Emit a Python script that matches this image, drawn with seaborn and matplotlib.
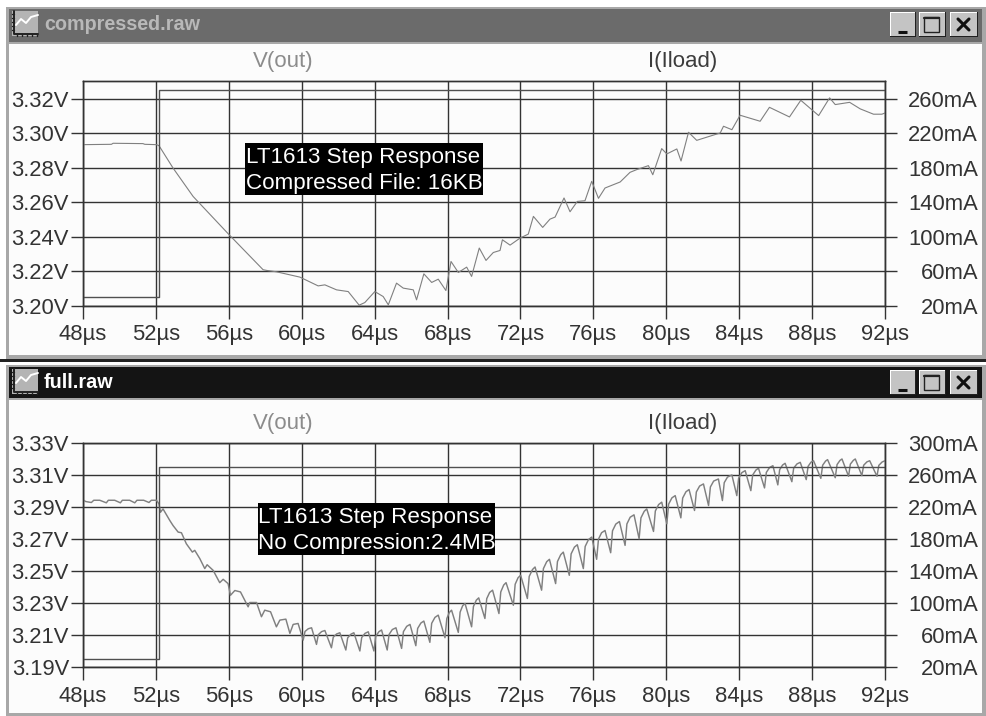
import matplotlib
matplotlib.use("Agg")
import matplotlib.pyplot as plt
import pandas as pd
import seaborn as sns
from matplotlib.patches import Rectangle

# ---- values ----
time_ticks = [48, 52, 56, 60, 64, 68, 72, 76, 80, 84, 88, 92]
time_labels = ["48µs", "52µs", "56µs", "60µs", "64µs", "68µs", "72µs", "76µs", "80µs", "84µs", "88µs", "92µs"]

top_v_ticks = [3.20, 3.22, 3.24, 3.26, 3.28, 3.30, 3.32]
top_v_labels = ["3.20V", "3.22V", "3.24V", "3.26V", "3.28V", "3.30V", "3.32V"]
top_i_ticks = [20, 60, 100, 140, 180, 220, 260]
top_i_labels = ["20mA", "60mA", "100mA", "140mA", "180mA", "220mA", "260mA"]

bot_v_ticks = [3.19, 3.21, 3.23, 3.25, 3.27, 3.29, 3.31, 3.33]
bot_v_labels = ["3.19V", "3.21V", "3.23V", "3.25V", "3.27V", "3.29V", "3.31V", "3.33V"]
bot_i_ticks = [20, 60, 100, 140, 180, 220, 260, 300]
bot_i_labels = ["20mA", "60mA", "100mA", "140mA", "180mA", "220mA", "260mA", "300mA"]

load_t = [48, 52.15, 52.15, 92]
load_ma = [30, 30, 270, 270]

comp_t = [48.00, 49.56, 49.65, 51.29, 51.39, 52.03, 52.17, 52.94, 54.04, 56.02, 57.88, 58.07, 58.61,
          59.90, 60.90, 61.27, 61.91, 62.55, 63.15, 63.46, 64.01, 64.47, 64.75, 65.20, 65.57, 66.12,
          66.30, 66.70, 67.13, 67.49, 67.91, 68.19, 68.59, 69.05, 69.32, 69.74, 70.11, 70.51, 70.88,
          71.01, 71.43, 71.98, 72.43, 72.71, 73.22, 73.62, 73.90, 74.39, 74.72, 75.12, 75.54, 75.91,
          76.28, 76.64, 77.47, 78.01, 78.38, 79.02, 79.26, 79.75, 80.03, 80.58, 80.81, 81.22, 81.67,
          82.96, 83.14, 83.60, 84.05, 85.15, 85.66, 86.76, 87.38, 88.36, 88.96, 89.27, 90.06, 90.64,
          91.37, 91.83, 92.00]
comp_v = [3.2935, 3.2937, 3.2943, 3.2941, 3.2937, 3.2935, 3.2929, 3.2799, 3.2634, 3.2411, 3.2208, 3.2204, 3.2196,
          3.2165, 3.2114, 3.2120, 3.2091, 3.2081, 3.2002, 3.2017, 3.2081, 3.2052, 3.2004, 3.2130, 3.2101, 3.2091,
          3.2033, 3.2184, 3.2134, 3.2153, 3.2087, 3.2256, 3.2192, 3.2223, 3.2169, 3.2334, 3.2262, 3.2308, 3.2320,
          3.2382, 3.2351, 3.2392, 3.2415, 3.2518, 3.2454, 3.2502, 3.2514, 3.2625, 3.2545, 3.2605, 3.2609, 3.2722,
          3.2623, 3.2683, 3.2718, 3.2774, 3.2790, 3.2813, 3.2760, 3.2912, 3.2881, 3.2910, 3.2840, 3.3007, 3.2960,
          3.3003, 3.3042, 3.3022, 3.3106, 3.3071, 3.3152, 3.3096, 3.3193, 3.3104, 3.3207, 3.3168, 3.3181, 3.3143,
          3.3112, 3.3112, 3.3119]

# full trace: flat part and descent, then one row per ripple (trough, knee, shoulder, peak)
full_t = [48.00, 48.15, 48.46, 48.59, 48.92, 49.28, 49.39, 49.74, 50.05, 50.16, 50.56, 50.84, 50.96, 51.33,
          51.62, 51.75, 52.03, 52.17, 52.25, 52.39, 52.76, 52.94, 53.22, 53.40, 53.67, 54.00, 54.13, 54.41,
          54.68, 54.81, 55.14, 55.50, 55.69, 55.96, 56.09, 56.33, 56.64, 57.06, 57.15, 57.52, 57.79, 57.97,
          58.29, 58.61, 58.80, 59.13, 59.35, 59.53, 59.80,
          60.08, 60.18, 60.36, 60.54, 60.81, 60.91, 61.09, 61.27, 61.63, 61.73, 61.91, 62.09,
          62.42, 62.52, 62.70, 62.86, 63.19, 63.29, 63.47, 63.65, 63.96, 64.06, 64.24, 64.38,
          64.69, 64.79, 64.97, 65.17, 65.48, 65.58, 65.76, 65.94, 66.26, 66.36, 66.54, 66.70,
          67.03, 67.13, 67.31, 67.49, 67.86, 67.96, 68.10, 68.22, 68.59, 68.69, 68.83, 68.96,
          69.32, 69.42, 69.58, 69.71, 70.05, 70.15, 70.31, 70.47, 70.82, 70.92, 71.08, 71.21,
          71.61, 71.71, 71.87, 72.01, 72.38, 72.48, 72.66, 72.80, 73.16, 73.26, 73.44, 73.59,
          73.93, 74.03, 74.21, 74.35, 74.68, 74.78, 74.96, 75.12, 75.45, 75.55, 75.73, 75.91,
          76.18, 76.28, 76.45, 76.64, 76.95, 77.05, 77.23, 77.43, 77.74, 77.84, 78.02, 78.23,
          78.51, 78.61, 78.79, 78.93, 79.30, 79.40, 79.58, 79.75, 80.03, 80.13, 80.31, 80.49,
          80.80, 80.90, 81.08, 81.25, 81.55, 81.65, 81.83, 82.04, 82.32, 82.42, 82.60, 82.86,
          83.08, 83.18, 83.36, 83.60, 83.87, 83.97, 84.15, 84.33, 84.64, 84.74, 84.92, 85.06,
          85.39, 85.49, 85.67, 85.85, 86.12, 86.22, 86.38, 86.52, 86.89, 86.99, 87.17, 87.35,
          87.68, 87.78, 87.94, 88.08, 88.48, 88.58, 88.74, 88.85, 89.27, 89.37, 89.53, 89.64,
          90.00, 90.10, 90.26, 90.37, 90.73, 90.83, 91.01, 91.16, 91.56, 91.66, 91.84, 92.00]
full_v = [3.2946, 3.2936, 3.2930, 3.2944, 3.2944, 3.2928, 3.2944, 3.2944, 3.2928, 3.2944, 3.2944, 3.2928, 3.2944, 3.2944,
          3.2930, 3.2944, 3.2944, 3.2921, 3.2869, 3.2890, 3.2818, 3.2786, 3.2745, 3.2741, 3.2672, 3.2620, 3.2631, 3.2579,
          3.2517, 3.2541, 3.2506, 3.2429, 3.2450, 3.2423, 3.2350, 3.2380, 3.2371, 3.2278, 3.2305, 3.2305, 3.2216, 3.2257,
          3.2247, 3.2153, 3.2195, 3.2201, 3.2112, 3.2168, 3.2174,
          3.2070, 3.2124, 3.2141, 3.2147, 3.2043, 3.2104, 3.2123, 3.2130, 3.2022, 3.2088, 3.2108, 3.2116,
          3.2008, 3.2084, 3.2107, 3.2116, 3.2002, 3.2086, 3.2112, 3.2122, 3.2002, 3.2094, 3.2123, 3.2133,
          3.2008, 3.2105, 3.2136, 3.2147, 3.2018, 3.2123, 3.2156, 3.2168, 3.2035, 3.2143, 3.2177, 3.2189,
          3.2056, 3.2175, 3.2212, 3.2226, 3.2085, 3.2205, 3.2243, 3.2257, 3.2118, 3.2245, 3.2285, 3.2299,
          3.2153, 3.2280, 3.2320, 3.2334, 3.2205, 3.2329, 3.2368, 3.2382, 3.2236, 3.2371, 3.2414, 3.2429,
          3.2288, 3.2419, 3.2460, 3.2475, 3.2330, 3.2468, 3.2511, 3.2527, 3.2382, 3.2517, 3.2560, 3.2575,
          3.2423, 3.2561, 3.2604, 3.2620, 3.2475, 3.2609, 3.2651, 3.2666, 3.2517, 3.2655, 3.2698, 3.2714,
          3.2575, 3.2701, 3.2741, 3.2755, 3.2616, 3.2753, 3.2795, 3.2811, 3.2662, 3.2796, 3.2838, 3.2853,
          3.2703, 3.2834, 3.2875, 3.2890, 3.2749, 3.2877, 3.2917, 3.2932, 3.2797, 3.2920, 3.2959, 3.2973,
          3.2834, 3.2958, 3.2997, 3.3011, 3.2880, 3.2996, 3.3033, 3.3046, 3.2911, 3.3027, 3.3064, 3.3077,
          3.2942, 3.3054, 3.3089, 3.3102, 3.2973, 3.3082, 3.3117, 3.3129, 3.3004, 3.3102, 3.3133, 3.3144,
          3.3021, 3.3118, 3.3149, 3.3160, 3.3040, 3.3135, 3.3164, 3.3175, 3.3060, 3.3145, 3.3171, 3.3181,
          3.3073, 3.3156, 3.3182, 3.3191, 3.3081, 3.3163, 3.3189, 3.3198, 3.3085, 3.3167, 3.3193, 3.3202,
          3.3094, 3.3170, 3.3193, 3.3202, 3.3098, 3.3163, 3.3184, 3.3191, 3.3094, 3.3162, 3.3183, 3.3191]

W, H = 987, 716
INK = "#333333"
TRACE = "#808080"
STEP = "#505050"
TICK_FS = 15.8

sns.set_theme(style="white")
plt.rcParams["font.family"] = ["Liberation Sans", "DejaVu Sans"]
plt.rcParams["text.color"] = INK

fig = plt.figure(figsize=(W / 100, H / 100), dpi=100, facecolor="white")

# pixel canvas for the window chrome, behind the plots
chrome = fig.add_axes([0, 0, 1, 1], zorder=0)
chrome.set_xlim(0, W)
chrome.set_ylim(H, 0)
chrome.axis("off")
# pixel canvas for the black notes, above the plots
notes = fig.add_axes([0, 0, 1, 1], zorder=10)
notes.set_xlim(0, W)
notes.set_ylim(H, 0)
notes.axis("off")


def rect(ax, x0, y0, x1, y1, color):
    ax.add_patch(Rectangle((x0, y0), x1 - x0, y1 - y0, fc=color, ec="none"))


def draw_window(y_top, y_title_end, y_client_end, y_frame_end, bar, name, name_color):
    rect(chrome, 6, y_top - 2, 986, y_frame_end, "#a8a8a8")
    rect(chrome, 9, y_top, 982, y_title_end, bar)
    rect(chrome, 9, y_title_end + 2, 982, y_client_end, "#fcfcfc")
    # little waveform icon
    y = y_top + 2
    rect(chrome, 12, y, 38, y + 25, "#b4b4b4")
    chrome.plot([16, 21, 26, 31, 38], [y + 14, y + 8, y + 12, y + 6, y + 4], color="#ffffff", lw=1.4)
    chrome.plot([14, 14, 38], [y, y + 23, y + 23], color="#222222", lw=1.4)
    for k in range(5):
        chrome.plot([12, 14], [y + 3 + 4 * k] * 2, color="#222222", lw=1)
        chrome.plot([17 + 5 * k] * 2, [y + 23, y + 25], color="#222222", lw=1)
    chrome.text(44, y_top + 16, name, color=name_color, fontsize=14.2, fontweight="bold", va="center", ha="left")
    # window buttons
    for x0, x1 in [(890, 916), (919, 946), (950, 978)]:
        rect(chrome, x0, y_top + 3, x1, y_top + 28, "#202020")
        rect(chrome, x0, y_top + 3, x1 - 1, y_top + 27, "#ffffff")
        rect(chrome, x0 + 1, y_top + 4, x1 - 1, y_top + 27, "#c4c4c4")
    by = y_top + 3
    chrome.plot([898, 907], [by + 20, by + 20], color="#111111", lw=2.2, solid_capstyle="butt")
    chrome.add_patch(Rectangle((924, by + 5), 15, 15, fc="none", ec="#222222", lw=1))
    chrome.plot([924, 939], [by + 6, by + 6], color="#222222", lw=1.6)
    chrome.plot([958, 969], [by + 7, by + 18], color="#111111", lw=2.2)
    chrome.plot([958, 969], [by + 18, by + 7], color="#111111", lw=2.2)


def draw_panel(px_top, px_bottom, v_lim, i_lim, v_ticks, v_labels, i_ticks, i_labels, t, v, trace_lw):
    pos = [83 / W, 1 - px_bottom / H, (885 - 83) / W, (px_bottom - px_top) / H]
    ax = fig.add_axes(pos, zorder=2, facecolor="none")
    sns.lineplot(data=pd.DataFrame({"t": t, "v": v}), x="t", y="v", estimator=None, sort=False,
                 color=TRACE, lw=trace_lw, ax=ax, zorder=4)
    ax.set_xlim(48, 92)
    ax.set_ylim(*v_lim)
    ax.set_xticks(time_ticks, time_labels)
    ax.set_yticks(v_ticks, v_labels)
    ax.set_xlabel("")
    ax.set_ylabel("")
    ax.grid(True, color=INK, lw=1.0)
    ax.set_axisbelow(True)
    ax.tick_params(axis="x", length=9, width=1.0, color=INK, pad=4.2, labelsize=TICK_FS, labelcolor=INK, bottom=True)
    ax.tick_params(axis="y", length=8.6, width=1.0, color=INK, pad=1.5, labelsize=TICK_FS, labelcolor=INK, left=True)

    ax2 = ax.twinx()
    ax2.set_zorder(3)
    ax2.patch.set_visible(False)
    sns.lineplot(data=pd.DataFrame({"t": load_t, "i": load_ma}), x="t", y="i", estimator=None, sort=False,
                 color=STEP, lw=1.0, ax=ax2)
    ax2.set_ylim(*i_lim)
    ax2.set_yticks(i_ticks, i_labels)
    ax2.set_ylabel("")
    ax2.grid(False)
    ax2.tick_params(axis="y", length=8.6, width=1.0, color=INK, pad=58.3, labelsize=TICK_FS, labelcolor=INK, right=True)
    for lab in ax2.get_yticklabels():
        lab.set_ha("right")
    for a in (ax, ax2):
        for sp in a.spines.values():
            sp.set_color(INK)
            sp.set_linewidth(1.0)


def note(x0, y0, x1, y1, line1, line2):
    rect(notes, x0, y0, x1, y1, "#000000")
    notes.text(x0 + 1, y0 + 14.5, line1, color="white", fontsize=16.1, va="center", ha="left")
    notes.text(x0 + 1, y0 + 40, line2, color="white", fontsize=16.1, va="center", ha="left")


draw_window(9, 42, 355, 359, "#6b6b6b", "compressed.raw", "#b8b8b8")
rect(chrome, 0, 359, W, 362, "#222222")
draw_window(367, 398, 713, 716, "#141414", "full.raw", "#ffffff")

for y in (62, 424):
    chrome.text(283, y, "V(out)", color="#8c8c8c", fontsize=16, ha="center", va="center")
    chrome.text(683, y, "I(Iload)", color="#3c3c3c", fontsize=16, ha="center", va="center")

draw_panel(81, 305.5, (3.20, 3.3305), (20, 280.9), top_v_ticks, top_v_labels, top_i_ticks, top_i_labels, comp_t, comp_v, 0.8)
draw_panel(443.3, 667.3, (3.19, 3.33), (20, 300), bot_v_ticks, bot_v_labels, bot_i_ticks, bot_i_labels, full_t, full_v, 1.05)

note(245, 143, 483, 195, "LT1613 Step Response", "Compressed File: 16KB")
note(257.5, 503, 495, 555, "LT1613 Step Response", "No Compression:2.4MB")

fig.savefig("out.png", dpi=100)
